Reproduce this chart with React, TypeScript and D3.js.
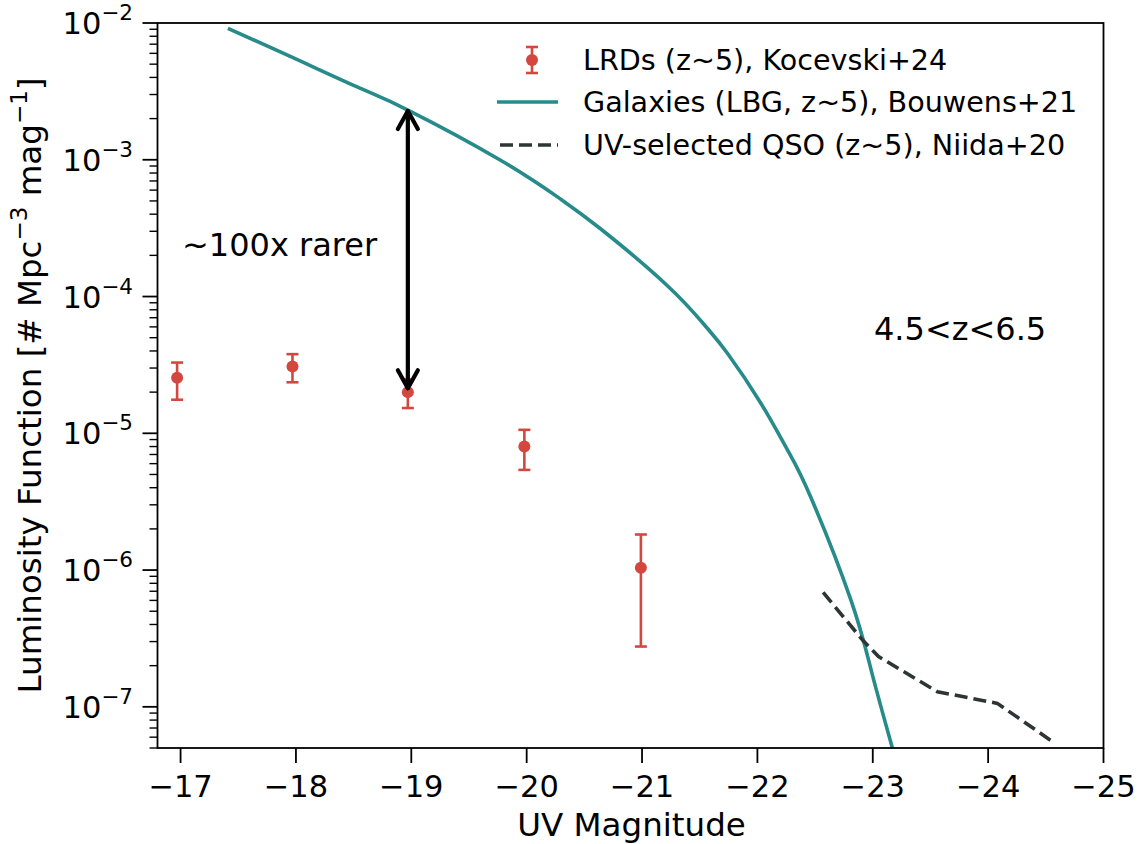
import React from "react";
import * as d3 from "d3";

// ---- data ----
const lrdMag = [-16.97, -17.97, -18.97, -19.98, -20.99];
const lrdPhi = [2.55e-5, 3.08e-5, 2.0e-5, 8.0e-6, 1.04e-6];
const lrdLo = [1.76e-5, 2.36e-5, 1.53e-5, 5.4e-6, 2.76e-7];
const lrdHi = [3.29e-5, 3.79e-5, 2.48e-5, 1.06e-5, 1.82e-6];

const galMag = [-17.41, -17.97, -18.55, -18.97, -19.77, -20.29, -20.64, -21.22, -21.56, -21.74, -22.03, -22.26, -22.46, -22.81, -22.99, -23.17];
const galPhi = [9.15e-3, 5.6e-3, 3.35e-3, 2.31e-3, 9.97e-4, 5.19e-4, 3.13e-4, 1.2e-4, 5.94e-5, 3.85e-5, 1.66e-5, 7.57e-6, 3.45e-6, 6.06e-7, 1.8e-7, 5.0e-8];

const qsoMag = [-22.57, -22.91, -23.05, -23.56, -24.08, -24.57];
const qsoPhi = [6.86e-7, 3.09e-7, 2.33e-7, 1.29e-7, 1.06e-7, 5.48e-8];

const xTicks = [-17, -18, -19, -20, -21, -22, -23, -24, -25];
const yMajorExp = [-2, -3, -4, -5, -6, -7];

const arrowMag = -18.97;
const arrowTop = 2.31e-3;
const arrowBottom = 2.1e-5;

const legendLabels = [
  "LRDs (z~5), Kocevski+24",
  "Galaxies (LBG, z~5), Bouwens+21",
  "UV-selected QSO (z~5), Niida+20",
];

const RED = "#d4473f";
const TEAL = "#278b8b";
const DARK = "#2d3535";
const FONT = "DejaVu Sans, sans-serif";

export default function App() {
  const W = 1143, H = 844;
  const left = 157.5, right = 1103.5, top = 23, bottom = 748;
  const x = d3.scaleLinear().domain([-16.8, -25]).range([left, right]);
  const y = d3.scaleLog().domain([5e-8, 1e-2]).range([bottom, top]);

  const galLine = d3.line<number>().x((_, i) => x(galMag[i])).y((d) => y(d)).curve(d3.curveNatural);
  const qsoLine = d3.line<number>().x((_, i) => x(qsoMag[i])).y((d) => y(d));

  const minor: number[] = [];
  for (let e = -8; e <= -3; e++) {
    for (let m = 2; m <= 9; m++) {
      const v = m * Math.pow(10, e);
      if (v >= 5e-8 && v <= 1e-2) minor.push(v);
    }
  }

  const ax = x(arrowMag);
  const ayT = y(arrowTop);
  const ayB = y(arrowBottom);
  const hw = 10, hl = 19;

  const legX = 532, legY = [60, 102, 145], legTextX = 583;

  return (
    <svg width={W} height={H} style={{ position: "absolute", left: 0, top: 0, background: "#fff" }} fontFamily={FONT}>
      <defs>
        <clipPath id="plotClip">
          <rect x={left} y={top} width={right - left} height={bottom - top} />
        </clipPath>
      </defs>
      <rect x={0} y={0} width={W} height={H} fill="#fff" />

      {/* lines */}
      <g clipPath="url(#plotClip)">
        <path d={galLine(galPhi) || ""} fill="none" stroke={TEAL} strokeWidth={3.6} />
        <path d={qsoLine(qsoPhi) || ""} fill="none" stroke={DARK} strokeWidth={3.6} strokeDasharray="13,6" />
      </g>

      {/* errorbars */}
      {lrdMag.map((m, i) => {
        const cx = x(m);
        return (
          <g key={i} stroke={RED} strokeWidth={2.6}>
            <line x1={cx} x2={cx} y1={y(lrdLo[i])} y2={y(lrdHi[i])} />
            <line x1={cx - 6} x2={cx + 6} y1={y(lrdLo[i])} y2={y(lrdLo[i])} />
            <line x1={cx - 6} x2={cx + 6} y1={y(lrdHi[i])} y2={y(lrdHi[i])} />
            <circle cx={cx} cy={y(lrdPhi[i])} r={6} fill={RED} stroke="none" />
          </g>
        );
      })}

      {/* arrow */}
      <g stroke="#000" strokeWidth={4.2} fill="none" strokeLinecap="round" strokeLinejoin="round">
        <line x1={ax} x2={ax} y1={ayT + 1} y2={ayB - 1} />
        <polyline points={`${ax - hw},${ayT + hl} ${ax},${ayT + 1} ${ax + hw},${ayT + hl}`} />
        <polyline points={`${ax - hw},${ayB - hl} ${ax},${ayB - 1} ${ax + hw},${ayB - hl}`} />
      </g>

      {/* annotations */}
      <text x={182} y={256} fontSize={32} fill="#000">~100x rarer</text>
      <text x={874} y={340} fontSize={32} fill="#000">4.5&lt;z&lt;6.5</text>

      {/* spines */}
      <rect x={left} y={top} width={right - left} height={bottom - top} fill="none" stroke="#000" strokeWidth={1.8} />

      {/* x ticks */}
      {xTicks.map((t) => (
        <g key={t}>
          <line x1={x(t)} x2={x(t)} y1={bottom} y2={bottom + 15} stroke="#000" strokeWidth={1.8} />
          <text x={x(t)} y={797} fontSize={30.5} textAnchor="middle" fill="#000">{"\u2212" + Math.abs(t)}</text>
        </g>
      ))}

      {/* y ticks */}
      {yMajorExp.map((e) => {
        const py = y(Math.pow(10, e));
        return (
          <g key={e}>
            <line x1={left - 15} x2={left} y1={py} y2={py} stroke="#000" strokeWidth={1.8} />
            <text x={133} y={py + 11} fontSize={30.5} textAnchor="end" fill="#000">
              10<tspan dy={-14} fontSize={21.5}>{"\u2212" + Math.abs(e)}</tspan>
            </text>
          </g>
        );
      })}
      {minor.map((v, i) => (
        <line key={i} x1={left - 8} x2={left} y1={y(v)} y2={y(v)} stroke="#000" strokeWidth={1.4} />
      ))}

      {/* axis labels */}
      <text x={(left + right) / 2 + 1} y={836} fontSize={32.5} textAnchor="middle" fill="#000">UV Magnitude</text>
      <text transform={`translate(41, ${(top + bottom) / 2}) rotate(-90)`} fontSize={32.5} textAnchor="middle" fill="#000">
        Luminosity Function [# Mpc<tspan dy={-14} fontSize={23}>{"\u22123"}</tspan>
        <tspan dy={14}> mag</tspan>
        <tspan dy={-14} fontSize={23}>{"\u22121"}</tspan>
        <tspan dy={14}>]</tspan>
      </text>

      {/* legend */}
      <g>
        <g stroke={RED} strokeWidth={2.6}>
          <line x1={legX} x2={legX} y1={legY[0] - 13} y2={legY[0] + 13} />
          <line x1={legX - 6} x2={legX + 6} y1={legY[0] - 13} y2={legY[0] - 13} />
          <line x1={legX - 6} x2={legX + 6} y1={legY[0] + 13} y2={legY[0] + 13} />
          <circle cx={legX} cy={legY[0]} r={6} fill={RED} stroke="none" />
        </g>
        <line x1={497} x2={558} y1={legY[1]} y2={legY[1]} stroke={TEAL} strokeWidth={3.6} />
        <line x1={500} x2={558} y1={legY[2]} y2={legY[2]} stroke={DARK} strokeWidth={3.6} strokeDasharray="13,6" />
        {legendLabels.map((s, i) => (
          <text key={i} x={legTextX} y={legY[i] + 10} fontSize={28.6} fill="#000">{s}</text>
        ))}
      </g>
    </svg>
  );
}
